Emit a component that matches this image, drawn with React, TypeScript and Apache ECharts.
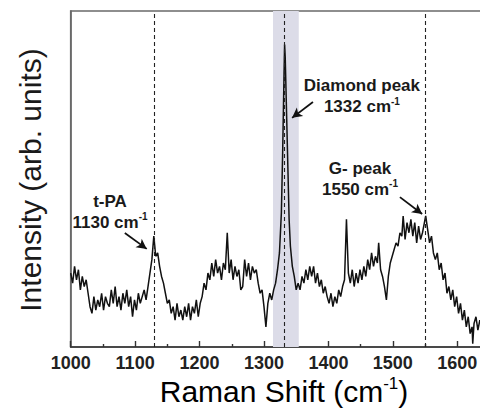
import React, { useEffect, useRef } from "react";
import * as echarts from "echarts";

// Raman shift (cm-1) and intensity (arb. units, 0-100 scale)
const ramanShift = [
  1000, 1003, 1006, 1009, 1012, 1015, 1018, 1021, 1024, 1027,
  1030, 1033, 1036, 1039, 1042, 1045, 1048, 1051, 1054, 1057,
  1060, 1063, 1066, 1069, 1072, 1075, 1078, 1081, 1084, 1087,
  1090, 1093, 1096, 1099, 1102, 1105, 1108, 1111, 1114, 1117,
  1120, 1123, 1126, 1129, 1132, 1135, 1138, 1141, 1144, 1147,
  1150, 1153, 1156, 1159, 1162, 1165, 1168, 1171, 1174, 1177,
  1180, 1183, 1186, 1189, 1192, 1195, 1198, 1201, 1204, 1207,
  1210, 1213, 1216, 1219, 1222, 1225, 1228, 1231, 1234, 1237,
  1240, 1243, 1246, 1249, 1252, 1255, 1258, 1261, 1264, 1267,
  1270, 1273, 1276, 1279, 1282, 1285, 1288, 1291, 1294, 1297,
  1300, 1303, 1306, 1309, 1312, 1315, 1318, 1321, 1324, 1327,
  1329, 1331, 1332, 1333, 1335, 1337, 1339, 1341,
  1344, 1347, 1350, 1353, 1356, 1359, 1362, 1365, 1368, 1371,
  1374, 1377, 1380, 1383, 1386, 1389, 1392, 1395, 1398, 1401,
  1404, 1407, 1410, 1413, 1416, 1419, 1422, 1425, 1428, 1431,
  1434, 1437, 1440, 1443, 1446, 1449, 1452, 1455, 1458, 1461,
  1464, 1467, 1470, 1473, 1476, 1478, 1481, 1484, 1487, 1490,
  1493, 1496, 1499, 1502, 1505, 1508, 1511, 1514, 1516, 1519,
  1522, 1525, 1528, 1531, 1534, 1537, 1540, 1543, 1546, 1549,
  1551, 1554, 1557, 1560, 1563, 1566, 1569, 1572, 1575, 1578,
  1581, 1584, 1587, 1590, 1593, 1596, 1599, 1602, 1605, 1608,
  1611, 1614, 1617, 1620, 1623, 1624, 1626, 1629, 1632, 1635, 1638,
];
const intensity = [
  22, 19, 24, 20, 23, 17, 21, 18, 20, 16,
  12, 10, 15, 11, 14, 12, 16, 11, 15, 13,
  12, 17, 13, 18, 12, 15, 11, 16, 13, 17,
  12, 15, 9, 14, 11, 16, 13, 15, 17, 14,
  18, 22, 26, 33, 27, 28, 24, 21, 19, 16,
  13, 14, 10, 12, 8, 13, 9, 11, 8, 12,
  9, 13, 8, 12, 10, 14, 9, 13, 15, 19,
  17, 22, 20, 25, 21, 26, 22, 24, 20, 25,
  23, 34, 22, 26, 20, 24, 21, 23, 17, 18,
  26, 21, 25, 20, 24, 22, 23, 19, 16, 17,
  12, 6, 13, 16, 14, 17, 19, 23, 28, 40,
  58, 80, 90, 86, 70, 54, 38, 30,
  24, 21, 17, 19, 17, 21, 19, 23, 20, 24,
  21, 24, 19, 22, 18, 20, 16, 18, 15, 13,
  16, 12, 15, 13, 17, 15, 18, 20, 38, 22,
  19, 23, 18, 22, 19, 23, 20, 24, 21, 26,
  23, 28, 24, 27, 25, 31, 23, 21, 18, 14,
  21, 25, 27, 29, 31, 30, 34, 33, 39, 32,
  37, 34, 38, 33, 37, 31, 36, 32, 34, 37,
  39, 35, 31, 33, 28, 26, 28, 23, 25, 20,
  22, 16, 18, 14, 17, 12, 15, 10, 13, 8,
  11, 6, 9, 4, 6, 1, 7, 9, 5, 8, 6,
];

const peakPositions = [1130, 1332, 1550];
const diamondBand = [1314, 1354];

const FONT = "'Liberation Sans', Arial, Helvetica, sans-serif";

const richStyles = {
  t: { fontSize: 17, fontWeight: "bold", color: "#1a1a1a", fontFamily: FONT, lineHeight: 21 },
  s: { fontSize: 10, fontWeight: "bold", color: "#1a1a1a", fontFamily: FONT, lineHeight: 10, verticalAlign: "top" },
};

const annotations = [
  { coord: [1061, 40.3], text: "{t|t-PA}\n{t|1130 cm}{s|-1}" },
  { coord: [1452, 74.6], text: "{t|Diamond peak}\n{t|1332 cm}{s|-1}" },
  { coord: [1449, 50.1], text: "{t|G- peak}\n{t|1550 cm}{s|-1}" },
];

const arrows = [
  [[1084, 33.9], [1118, 29.2]],
  [[1376, 72.9], [1343.6, 68.2]],
  [[1511, 44.6], [1545.5, 39.6]],
];

export default function App() {
  const ref = useRef<HTMLDivElement>(null);
  useEffect(() => {
    if (!ref.current) return;
    const chart = echarts.init(ref.current, undefined, { renderer: "svg" });
    const data = ramanShift.map((x, i) => [x, intensity[i]]);
    chart.setOption({
      animation: false,
      backgroundColor: "#ffffff",
      grid: {
        left: 70.7,
        top: 11,
        bottom: 71,
        right: -41.7,
        outerBoundsMode: "none",
        containLabel: false,
        show: true,
        borderColor: "#6a6a6a",
        borderWidth: 1.6,
        backgroundColor: "transparent",
      },
      xAxis: {
        type: "value",
        min: 1000,
        max: 1700,
        interval: 100,
        axisLine: { show: true, lineStyle: { color: "#333", width: 1.6 } },
        axisTick: { show: true, inside: true, length: 6, lineStyle: { color: "#333", width: 1.4 } },
        minorTick: { show: true, splitNumber: 2, length: 3, lineStyle: { color: "#333", width: 1.4 } },
        splitLine: { show: false },
        minorSplitLine: { show: false },
        axisLabel: {
          fontSize: 18,
          fontWeight: "bold",
          color: "#222",
          fontFamily: FONT,
          margin: 7,
          formatter: (v: number) => String(v),
        },
      },
      yAxis: {
        type: "value",
        min: 0,
        max: 100,
        axisLine: { show: true, lineStyle: { color: "#6a6a6a", width: 1.6 } },
        axisTick: { show: false },
        axisLabel: { show: false },
        splitLine: { show: false },
      },
      series: [
        {
          type: "line",
          data,
          showSymbol: false,
          symbol: "none",
          lineStyle: { color: "#111", width: 1.5 },
          z: 3,
          markArea: {
            silent: true,
            itemStyle: { color: "#dcdce8" },
            data: [[{ xAxis: diamondBand[0] }, { xAxis: diamondBand[1] }]],
          },
          markLine: {
            silent: true,
            symbol: "none",
            label: { show: false },
            lineStyle: { type: [4, 3], color: "#222", width: 1.1 },
            data: peakPositions.map((p) => ({ xAxis: p })),
          },
        },
        {
          type: "line",
          data: [],
          z: 4,
          markLine: {
            silent: true,
            label: { show: false },
            lineStyle: { type: "solid", color: "#111", width: 1.8 },
            data: arrows.map(([a, b]) => [
              { coord: a, symbol: "none" },
              { coord: b, symbol: "arrow", symbolSize: [8, 10] },
            ]),
          },
          markPoint: {
            silent: true,
            symbol: "circle",
            symbolSize: 0,
            label: {
              show: true,
              position: "inside",
              align: "center",
              rich: richStyles,
            },
            data: annotations.map((a) => ({
              coord: a.coord,
              label: { formatter: a.text },
            })),
          },
        },
      ],
      graphic: [
        {
          type: "text",
          x: 284,
          y: 391,
          style: {
            text: "{a|Raman Shift (cm}{s|-1}{a|)}",
            align: "center",
            verticalAlign: "middle",
            rich: {
              a: { fontSize: 30, color: "#1a1a1a", fontFamily: FONT, lineHeight: 32 },
              s: { fontSize: 17, color: "#1a1a1a", fontFamily: FONT, lineHeight: 17, verticalAlign: "top" },
            },
          },
        },
        {
          type: "text",
          x: 30,
          y: 180,
          rotation: Math.PI / 2,
          style: {
            text: "Intensity (arb. units)",
            align: "center",
            verticalAlign: "middle",
            fontSize: 30,
            fill: "#1a1a1a",
            fontFamily: FONT,
          },
        },
      ],
    });
    return () => chart.dispose();
  }, []);
  return (
    <div
      ref={ref}
      style={{ position: "fixed", left: 0, top: 0, width: 480, height: 418, background: "#fff" }}
    />
  );
}
